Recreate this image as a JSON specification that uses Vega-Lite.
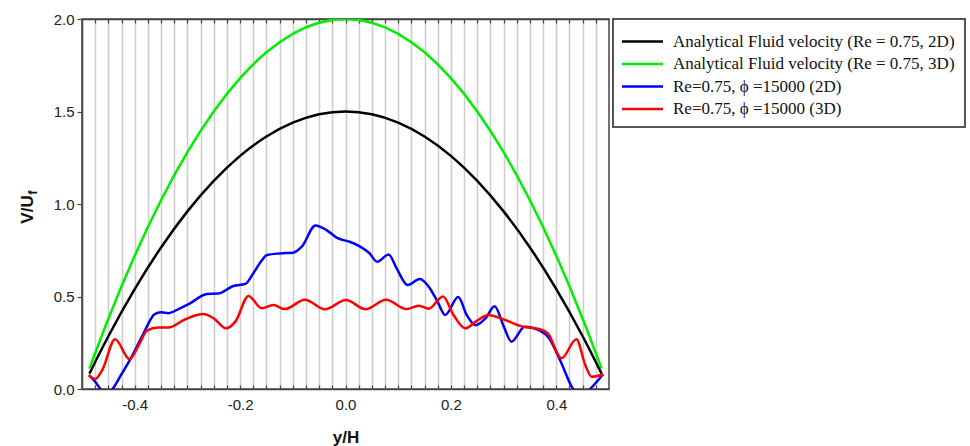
{
  "$schema": "https://vega.github.io/schema/vega-lite/v6.json",
  "width": 527,
  "height": 370,
  "autosize": "none",
  "padding": {"left": 82, "top": 19, "right": 361, "bottom": 57},
  "background": "white",
  "config": {
    "view": {"stroke": "#444", "strokeWidth": 1.5},
    "axis": {"labelFont": "Liberation Sans", "titleFont": "Liberation Sans", "labelColor": "#222", "titleColor": "#111", "domainColor": "#444", "tickColor": "#444", "domainWidth": 1.5},
    "legend": {"strokeColor": "#555", "strokeWidth": 2, "padding": 10, "fillColor": "white"}
  },
  "data": {"values": [
    {"s": "Analytical Fluid velocity (Re = 0.75, 2D)", "x": -0.486, "v": 0.083},
    {"s": "Analytical Fluid velocity (Re = 0.75, 2D)", "x": -0.45, "v": 0.285},
    {"s": "Analytical Fluid velocity (Re = 0.75, 2D)", "x": -0.4, "v": 0.54},
    {"s": "Analytical Fluid velocity (Re = 0.75, 2D)", "x": -0.35, "v": 0.765},
    {"s": "Analytical Fluid velocity (Re = 0.75, 2D)", "x": -0.3, "v": 0.96},
    {"s": "Analytical Fluid velocity (Re = 0.75, 2D)", "x": -0.25, "v": 1.125},
    {"s": "Analytical Fluid velocity (Re = 0.75, 2D)", "x": -0.2, "v": 1.26},
    {"s": "Analytical Fluid velocity (Re = 0.75, 2D)", "x": -0.15, "v": 1.365},
    {"s": "Analytical Fluid velocity (Re = 0.75, 2D)", "x": -0.1, "v": 1.44},
    {"s": "Analytical Fluid velocity (Re = 0.75, 2D)", "x": -0.05, "v": 1.485},
    {"s": "Analytical Fluid velocity (Re = 0.75, 2D)", "x": 0, "v": 1.5},
    {"s": "Analytical Fluid velocity (Re = 0.75, 2D)", "x": 0.05, "v": 1.485},
    {"s": "Analytical Fluid velocity (Re = 0.75, 2D)", "x": 0.1, "v": 1.44},
    {"s": "Analytical Fluid velocity (Re = 0.75, 2D)", "x": 0.15, "v": 1.365},
    {"s": "Analytical Fluid velocity (Re = 0.75, 2D)", "x": 0.2, "v": 1.26},
    {"s": "Analytical Fluid velocity (Re = 0.75, 2D)", "x": 0.25, "v": 1.125},
    {"s": "Analytical Fluid velocity (Re = 0.75, 2D)", "x": 0.3, "v": 0.96},
    {"s": "Analytical Fluid velocity (Re = 0.75, 2D)", "x": 0.35, "v": 0.765},
    {"s": "Analytical Fluid velocity (Re = 0.75, 2D)", "x": 0.4, "v": 0.54},
    {"s": "Analytical Fluid velocity (Re = 0.75, 2D)", "x": 0.45, "v": 0.285},
    {"s": "Analytical Fluid velocity (Re = 0.75, 2D)", "x": 0.486, "v": 0.083},
    {"s": "Analytical Fluid velocity (Re = 0.75, 3D)", "x": -0.486, "v": 0.11},
    {"s": "Analytical Fluid velocity (Re = 0.75, 3D)", "x": -0.45, "v": 0.38},
    {"s": "Analytical Fluid velocity (Re = 0.75, 3D)", "x": -0.4, "v": 0.72},
    {"s": "Analytical Fluid velocity (Re = 0.75, 3D)", "x": -0.35, "v": 1.02},
    {"s": "Analytical Fluid velocity (Re = 0.75, 3D)", "x": -0.3, "v": 1.28},
    {"s": "Analytical Fluid velocity (Re = 0.75, 3D)", "x": -0.25, "v": 1.5},
    {"s": "Analytical Fluid velocity (Re = 0.75, 3D)", "x": -0.2, "v": 1.68},
    {"s": "Analytical Fluid velocity (Re = 0.75, 3D)", "x": -0.15, "v": 1.82},
    {"s": "Analytical Fluid velocity (Re = 0.75, 3D)", "x": -0.1, "v": 1.92},
    {"s": "Analytical Fluid velocity (Re = 0.75, 3D)", "x": -0.05, "v": 1.98},
    {"s": "Analytical Fluid velocity (Re = 0.75, 3D)", "x": 0, "v": 2.0},
    {"s": "Analytical Fluid velocity (Re = 0.75, 3D)", "x": 0.05, "v": 1.98},
    {"s": "Analytical Fluid velocity (Re = 0.75, 3D)", "x": 0.1, "v": 1.92},
    {"s": "Analytical Fluid velocity (Re = 0.75, 3D)", "x": 0.15, "v": 1.82},
    {"s": "Analytical Fluid velocity (Re = 0.75, 3D)", "x": 0.2, "v": 1.68},
    {"s": "Analytical Fluid velocity (Re = 0.75, 3D)", "x": 0.25, "v": 1.5},
    {"s": "Analytical Fluid velocity (Re = 0.75, 3D)", "x": 0.3, "v": 1.28},
    {"s": "Analytical Fluid velocity (Re = 0.75, 3D)", "x": 0.35, "v": 1.02},
    {"s": "Analytical Fluid velocity (Re = 0.75, 3D)", "x": 0.4, "v": 0.72},
    {"s": "Analytical Fluid velocity (Re = 0.75, 3D)", "x": 0.45, "v": 0.38},
    {"s": "Analytical Fluid velocity (Re = 0.75, 3D)", "x": 0.486, "v": 0.11},
    {"s": "Re=0.75, ϕ =15000 (2D)", "x": -0.487, "v": 0.075},
    {"s": "Re=0.75, ϕ =15000 (2D)", "x": -0.475, "v": 0.04},
    {"s": "Re=0.75, ϕ =15000 (2D)", "x": -0.465, "v": 0.0},
    {"s": "Re=0.75, ϕ =15000 (2D)", "x": -0.453, "v": -0.03},
    {"s": "Re=0.75, ϕ =15000 (2D)", "x": -0.442, "v": 0.0},
    {"s": "Re=0.75, ϕ =15000 (2D)", "x": -0.425, "v": 0.08},
    {"s": "Re=0.75, ϕ =15000 (2D)", "x": -0.409, "v": 0.157},
    {"s": "Re=0.75, ϕ =15000 (2D)", "x": -0.385, "v": 0.29},
    {"s": "Re=0.75, ϕ =15000 (2D)", "x": -0.362, "v": 0.405},
    {"s": "Re=0.75, ϕ =15000 (2D)", "x": -0.35, "v": 0.415},
    {"s": "Re=0.75, ϕ =15000 (2D)", "x": -0.336, "v": 0.41},
    {"s": "Re=0.75, ϕ =15000 (2D)", "x": -0.315, "v": 0.435},
    {"s": "Re=0.75, ϕ =15000 (2D)", "x": -0.295, "v": 0.463},
    {"s": "Re=0.75, ϕ =15000 (2D)", "x": -0.263, "v": 0.514},
    {"s": "Re=0.75, ϕ =15000 (2D)", "x": -0.241, "v": 0.516},
    {"s": "Re=0.75, ϕ =15000 (2D)", "x": -0.213, "v": 0.557},
    {"s": "Re=0.75, ϕ =15000 (2D)", "x": -0.19, "v": 0.568},
    {"s": "Re=0.75, ϕ =15000 (2D)", "x": -0.175, "v": 0.625},
    {"s": "Re=0.75, ϕ =15000 (2D)", "x": -0.16, "v": 0.69},
    {"s": "Re=0.75, ϕ =15000 (2D)", "x": -0.149, "v": 0.724},
    {"s": "Re=0.75, ϕ =15000 (2D)", "x": -0.124, "v": 0.733},
    {"s": "Re=0.75, ϕ =15000 (2D)", "x": -0.099, "v": 0.737},
    {"s": "Re=0.75, ϕ =15000 (2D)", "x": -0.083, "v": 0.769},
    {"s": "Re=0.75, ϕ =15000 (2D)", "x": -0.057, "v": 0.884},
    {"s": "Re=0.75, ϕ =15000 (2D)", "x": -0.036, "v": 0.859},
    {"s": "Re=0.75, ϕ =15000 (2D)", "x": -0.015, "v": 0.815},
    {"s": "Re=0.75, ϕ =15000 (2D)", "x": 0.008, "v": 0.796},
    {"s": "Re=0.75, ϕ =15000 (2D)", "x": 0.027, "v": 0.771},
    {"s": "Re=0.75, ϕ =15000 (2D)", "x": 0.045, "v": 0.735},
    {"s": "Re=0.75, ϕ =15000 (2D)", "x": 0.06, "v": 0.688},
    {"s": "Re=0.75, ϕ =15000 (2D)", "x": 0.082, "v": 0.727},
    {"s": "Re=0.75, ϕ =15000 (2D)", "x": 0.097, "v": 0.652},
    {"s": "Re=0.75, ϕ =15000 (2D)", "x": 0.118, "v": 0.562},
    {"s": "Re=0.75, ϕ =15000 (2D)", "x": 0.141, "v": 0.594},
    {"s": "Re=0.75, ϕ =15000 (2D)", "x": 0.16, "v": 0.545},
    {"s": "Re=0.75, ϕ =15000 (2D)", "x": 0.175, "v": 0.47},
    {"s": "Re=0.75, ϕ =15000 (2D)", "x": 0.189, "v": 0.4},
    {"s": "Re=0.75, ϕ =15000 (2D)", "x": 0.214, "v": 0.497},
    {"s": "Re=0.75, ϕ =15000 (2D)", "x": 0.23, "v": 0.4},
    {"s": "Re=0.75, ϕ =15000 (2D)", "x": 0.247, "v": 0.345},
    {"s": "Re=0.75, ϕ =15000 (2D)", "x": 0.265, "v": 0.38},
    {"s": "Re=0.75, ϕ =15000 (2D)", "x": 0.283, "v": 0.447},
    {"s": "Re=0.75, ϕ =15000 (2D)", "x": 0.3, "v": 0.34},
    {"s": "Re=0.75, ϕ =15000 (2D)", "x": 0.315, "v": 0.256},
    {"s": "Re=0.75, ϕ =15000 (2D)", "x": 0.34, "v": 0.337},
    {"s": "Re=0.75, ϕ =15000 (2D)", "x": 0.369, "v": 0.315},
    {"s": "Re=0.75, ϕ =15000 (2D)", "x": 0.385, "v": 0.28},
    {"s": "Re=0.75, ϕ =15000 (2D)", "x": 0.407, "v": 0.157},
    {"s": "Re=0.75, ϕ =15000 (2D)", "x": 0.432, "v": 0.0},
    {"s": "Re=0.75, ϕ =15000 (2D)", "x": 0.448, "v": -0.04},
    {"s": "Re=0.75, ϕ =15000 (2D)", "x": 0.464, "v": 0.0},
    {"s": "Re=0.75, ϕ =15000 (2D)", "x": 0.489, "v": 0.08},
    {"s": "Re=0.75, ϕ =15000 (3D)", "x": -0.487, "v": 0.075},
    {"s": "Re=0.75, ϕ =15000 (3D)", "x": -0.475, "v": 0.054},
    {"s": "Re=0.75, ϕ =15000 (3D)", "x": -0.462, "v": 0.1},
    {"s": "Re=0.75, ϕ =15000 (3D)", "x": -0.437, "v": 0.269},
    {"s": "Re=0.75, ϕ =15000 (3D)", "x": -0.41, "v": 0.162},
    {"s": "Re=0.75, ϕ =15000 (3D)", "x": -0.39, "v": 0.25},
    {"s": "Re=0.75, ϕ =15000 (3D)", "x": -0.377, "v": 0.315},
    {"s": "Re=0.75, ϕ =15000 (3D)", "x": -0.355, "v": 0.333},
    {"s": "Re=0.75, ϕ =15000 (3D)", "x": -0.336, "v": 0.333},
    {"s": "Re=0.75, ϕ =15000 (3D)", "x": -0.304, "v": 0.377},
    {"s": "Re=0.75, ϕ =15000 (3D)", "x": -0.27, "v": 0.405},
    {"s": "Re=0.75, ϕ =15000 (3D)", "x": -0.25, "v": 0.382},
    {"s": "Re=0.75, ϕ =15000 (3D)", "x": -0.227, "v": 0.328},
    {"s": "Re=0.75, ϕ =15000 (3D)", "x": -0.209, "v": 0.364},
    {"s": "Re=0.75, ϕ =15000 (3D)", "x": -0.184, "v": 0.503},
    {"s": "Re=0.75, ϕ =15000 (3D)", "x": -0.159, "v": 0.436},
    {"s": "Re=0.75, ϕ =15000 (3D)", "x": -0.137, "v": 0.454},
    {"s": "Re=0.75, ϕ =15000 (3D)", "x": -0.115, "v": 0.432},
    {"s": "Re=0.75, ϕ =15000 (3D)", "x": -0.077, "v": 0.483},
    {"s": "Re=0.75, ϕ =15000 (3D)", "x": -0.039, "v": 0.431},
    {"s": "Re=0.75, ϕ =15000 (3D)", "x": 0.001, "v": 0.481},
    {"s": "Re=0.75, ϕ =15000 (3D)", "x": 0.038, "v": 0.431},
    {"s": "Re=0.75, ϕ =15000 (3D)", "x": 0.077, "v": 0.482},
    {"s": "Re=0.75, ϕ =15000 (3D)", "x": 0.116, "v": 0.432},
    {"s": "Re=0.75, ϕ =15000 (3D)", "x": 0.139, "v": 0.45},
    {"s": "Re=0.75, ϕ =15000 (3D)", "x": 0.158, "v": 0.434},
    {"s": "Re=0.75, ϕ =15000 (3D)", "x": 0.185, "v": 0.5},
    {"s": "Re=0.75, ϕ =15000 (3D)", "x": 0.205, "v": 0.4},
    {"s": "Re=0.75, ϕ =15000 (3D)", "x": 0.227, "v": 0.328},
    {"s": "Re=0.75, ϕ =15000 (3D)", "x": 0.25, "v": 0.37},
    {"s": "Re=0.75, ϕ =15000 (3D)", "x": 0.271, "v": 0.4},
    {"s": "Re=0.75, ϕ =15000 (3D)", "x": 0.299, "v": 0.377},
    {"s": "Re=0.75, ϕ =15000 (3D)", "x": 0.337, "v": 0.337},
    {"s": "Re=0.75, ϕ =15000 (3D)", "x": 0.369, "v": 0.323},
    {"s": "Re=0.75, ϕ =15000 (3D)", "x": 0.384, "v": 0.301},
    {"s": "Re=0.75, ϕ =15000 (3D)", "x": 0.41, "v": 0.166},
    {"s": "Re=0.75, ϕ =15000 (3D)", "x": 0.438, "v": 0.269},
    {"s": "Re=0.75, ϕ =15000 (3D)", "x": 0.455, "v": 0.13},
    {"s": "Re=0.75, ϕ =15000 (3D)", "x": 0.467, "v": 0.066},
    {"s": "Re=0.75, ϕ =15000 (3D)", "x": 0.489, "v": 0.08}
  ]},
  "resolve": {"axis": {"x": "independent", "y": "independent"}},
  "layer": [
    {
      "mark": {"type": "line", "interpolate": "monotone", "strokeWidth": 2.5, "clip": true},
      "encoding": {
        "x": {"field": "x", "type": "quantitative", "scale": {"domain": [-0.5, 0.5], "nice": false, "zero": false},
          "axis": {"orient": "bottom", "title": "y/H", "titleFontSize": 17, "titleFontWeight": "bold", "titleX": 263.5, "titleY": 53, "titleBaseline": "alphabetic",
            "values": [-0.475,-0.45,-0.425,-0.4,-0.375,-0.35,-0.325,-0.3,-0.275,-0.25,-0.225,-0.2,-0.175,-0.15,-0.125,-0.1,-0.075,-0.05,-0.025,0,0.025,0.05,0.075,0.1,0.125,0.15,0.175,0.2,0.225,0.25,0.275,0.3,0.325,0.35,0.375,0.4,0.425,0.45,0.475],
            "labelExpr": "abs(datum.value*5 - round(datum.value*5)) < 0.001 ? (datum.value < -0.001 ? '-' : '') + format(abs(datum.value), '.1f') : ''",
            "labelFontSize": 15, "labelPadding": 12, "tickSize": -4, "tickWidth": 1.2, "grid": true, "gridColor": "#cccccc", "gridWidth": 1.5}},
        "y": {"field": "v", "type": "quantitative", "scale": {"domain": [0, 2], "nice": false},
          "axis": {"orient": "left", "title": "V/U", "titleFontSize": 17, "titleFontWeight": "bold", "titleX": -50, "titleY": 190, "titleAngle": -90, "titleAlign": "center", "titleBaseline": "alphabetic",
            "values": [0, 0.5, 1, 1.5, 2], "format": ".1f", "labelFontSize": 15, "labelPadding": 3, "tickSize": 5, "tickWidth": 1.2, "grid": false}},
        "color": {"field": "s", "type": "nominal",
          "scale": {"domain": ["Analytical Fluid velocity (Re = 0.75, 2D)", "Analytical Fluid velocity (Re = 0.75, 3D)", "Re=0.75, ϕ =15000 (2D)", "Re=0.75, ϕ =15000 (3D)"], "range": ["#000000", "#00ee00", "#0000ff", "#ff0000"]},
          "legend": {"orient": "none", "legendX": 531, "legendY": 0, "title": null, "labelFont": "Liberation Serif", "labelFontSize": 17, "labelColor": "#111", "labelLimit": 500,
            "symbolType": "M-1.227,0H2.5", "symbolSize": 484, "symbolStrokeWidth": 2.5, "labelOffset": 25, "rowPadding": 1.5}}
      }
    },
    {
      "mark": {"type": "line", "opacity": 0},
      "encoding": {
        "x": {"field": "x", "type": "quantitative",
          "axis": {"orient": "top", "title": null, "labels": false, "grid": false, "tickSize": -4, "tickWidth": 1.2,
            "values": [-0.475,-0.45,-0.425,-0.4,-0.375,-0.35,-0.325,-0.3,-0.275,-0.25,-0.225,-0.2,-0.175,-0.15,-0.125,-0.1,-0.075,-0.05,-0.025,0,0.025,0.05,0.075,0.1,0.125,0.15,0.175,0.2,0.225,0.25,0.275,0.3,0.325,0.35,0.375,0.4,0.425,0.45,0.475]}},
        "y": {"field": "v", "type": "quantitative",
          "axis": {"orient": "left", "title": "f", "titleFontSize": 13, "titleFontWeight": "bold", "titleX": -46, "titleY": 173, "titleAngle": -90, "titleAlign": "center", "titleBaseline": "alphabetic",
            "domain": false, "ticks": false, "labels": false, "grid": false}},
        "detail": {"field": "s"}
      }
    }
  ]
}
